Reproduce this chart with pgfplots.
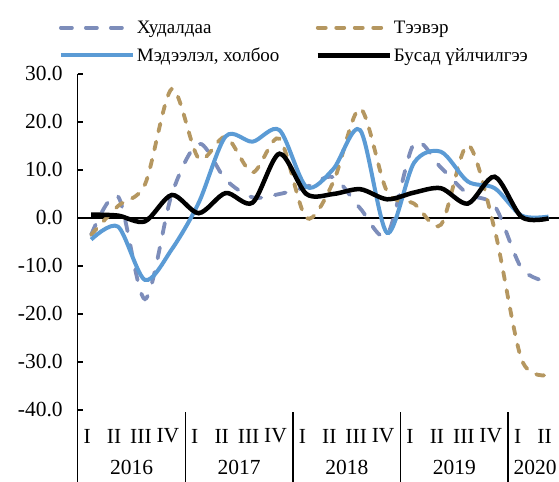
\documentclass[border=0pt]{standalone}
\usepackage{fontspec}
\setmainfont{Liberation Serif}
\usepackage{pgfplots}
\usepackage{pgfplotstable}
\pgfplotsset{compat=1.18}

\definecolor{hudcol}{RGB}{125,141,186}
\definecolor{teecol}{RGB}{181,151,96}
\definecolor{medcol}{RGB}{91,155,213}

% quarterly growth, 2016 Q1 -- 2020 Q2
\pgfplotstableread{
i  hud    tee    med    bus
0  -3.5   -3.5   -4.5    0.7
1   4.5    2.5   -1.8    0.5
2 -16.9    7.0  -12.9   -0.7
3   5.0   26.9   -6.5    4.8
4  15.5   12.4    3.2    1.0
5   8.0   16.9   17.0    5.2
6   4.3    9.5   15.9    3.2
7   5.0   16.5   18.3   13.4
8   6.5    0.0    6.5    5.0
9   8.5    7.5   10.2    5.0
10  2.0   22.8   18.3    6.0
11 -3.5    5.5   -3.1    3.9
12 15.5    3.0   11.5    5.3
13 10.5   -1.4   13.8    6.2
14  5.0   15.2    7.6    3.0
15  2.5   -2.5    6.2    8.6
16 -10.5 -29.5    0.5    0.2
17 -13.3 -32.7    0.3   -0.1
}\growth

\newcommand\tickfont{\fontsize{21.5bp}{24bp}\selectfont}
\newcommand\legfont{\fontsize{19bp}{22bp}\selectfont}

\begin{document}
\begin{tikzpicture}
\useasboundingbox (-77.7bp,-72bp) rectangle (481.3bp,410bp);
\begin{axis}[
  at={(0,0)}, anchor=south west,
  scale only axis,
  width=484.3bp, height=336bp,
  xmin=-0.5, xmax=17.5,
  ymin=-40, ymax=30,
  clip=false,
  axis lines=left,
  axis line style={-, line width=1.5bp},
  x axis line style={draw=none},
  xtick={0,...,17},
  xticklabels={I,II,III,IV,I,II,III,IV,I,II,III,IV,I,II,III,IV,I,II},
  x tick style={draw=none},
  x tick label style={anchor=center, yshift=-26bp, xshift=-4bp, font=\tickfont},
  ytick={-40,-30,...,30},
  tick align=inside,
  major tick length=5.5bp,
  y tick style={line width=1.5bp, black},
  y tick label style={font=\tickfont, xshift=-11.5bp,
    /pgf/number format/.cd, fixed, fixed zerofill, precision=1, assume math mode=true},
  yticklabel={\pgfmathprintnumber{\tick}},
  legend columns=2,
  legend cell align=left,
  legend style={draw=none, fill=none, font=\legfont,
    at={(rel axis cs:0,1)}, anchor=south west,
    xshift=-22bp, yshift=7bp, row sep=9bp,
    /tikz/every even column/.append style={column sep=34bp}},
  legend image code/.code={\draw[#1] (0bp,0bp) -- (72bp,0bp);},
  every axis plot/.append style={smooth, tension=0.5},
]
\draw[black, line width=1.5bp] (axis cs:-0.5,0) -- (axis cs:17.5,0);
\addplot[hudcol, line width=3.8bp, line cap=round, dash pattern=on 11bp off 14bp] table[x=i, y=hud] {\growth};
\addlegendentry{Худалдаа}
\addplot[teecol, line width=3.8bp, line cap=round, dash pattern=on 8bp off 10.5bp] table[x=i, y=tee] {\growth};
\addlegendentry{Тээвэр}
\addplot[medcol, line width=4bp] table[x=i, y=med] {\growth};
\addlegendentry{Мэдээлэл, холбоо}
\addplot[black, line width=4.5bp] table[x=i, y=bus] {\growth};
\addlegendentry{Бусад үйлчилгээ}
% year separators below the axis
\draw[black, line width=1.5bp] (axis cs:-0.5,-40) -- ++(0bp,-72bp);
\pgfplotsinvokeforeach{3.5,7.5,11.5,15.5}{
  \draw[black, line width=1.5bp] (axis cs:#1,-40) ++(0bp,-2bp) -- ++(0bp,-70bp);
}
\begin{scope}[every node/.style={font=\tickfont, inner sep=0pt, yshift=-57bp}]
\node at (axis cs:1.5,-40) {2016};
\node at (axis cs:5.5,-40) {2017};
\node at (axis cs:9.5,-40) {2018};
\node at (axis cs:13.5,-40) {2019};
\node at (axis cs:16.5,-40) {2020};
\end{scope}
\end{axis}
\end{tikzpicture}
\end{document}
